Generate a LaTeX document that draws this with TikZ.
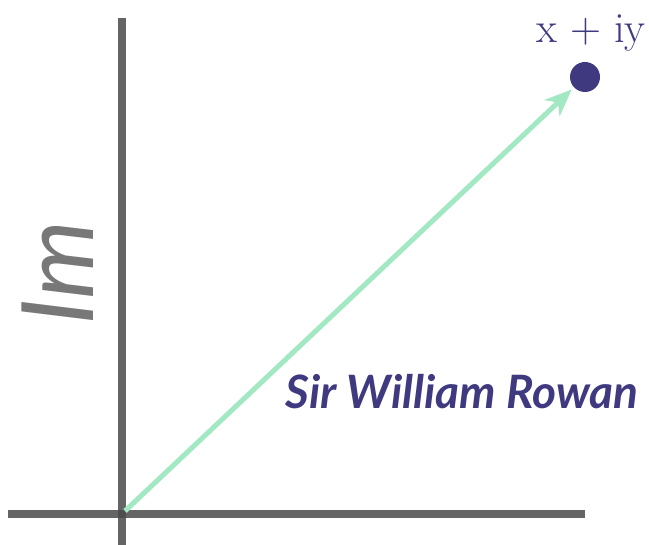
\documentclass[tikz,border=0pt]{standalone}
\usepackage{fontspec}
\setmainfont{Latin Modern Roman}
\newfontfamily\labelfont{Lato}
\usetikzlibrary{arrows.meta}
\definecolor{navy}{HTML}{3F3A80}
\definecolor{mint}{HTML}{A2E8C2}
\definecolor{axisgray}{HTML}{4A4A4A}
\definecolor{imgray}{HTML}{787878}
\begin{document}
\begin{tikzpicture}[x=1pt,y=1pt,
  axis/.style={draw=axisgray,line width=8pt,opacity=0.85},
  vec/.style={draw=mint,line width=5pt,-{Stealth[length=27pt,width=22pt,inset=8pt]},shorten >=3pt},
  pt/.style={circle,fill=navy,minimum size=30pt,inner sep=0pt}]
\useasboundingbox (0,0) rectangle (649,545);
\coordinate (ytop) at (122,527);
\coordinate (ybot) at (122,0);
\coordinate (xl) at (8,31);
\coordinate (xr) at (585,31);
\coordinate (o) at (125,34);
\draw[axis] (ytop) -- (ybot);
\draw[axis] (xl) -- (xr);
\node[pt] (p) at (585,468) {};
\draw[vec] (o) -- (p);
\node[text=navy,font=\fontsize{43}{50}\selectfont,anchor=base] (lbl) at (591,502) {x + iy};
\node[text=imgray,font=\labelfont\itshape\fontsize{100}{110}\selectfont,rotate=90,anchor=center] (im) at (58,272) {Im};
\node[text=navy,font=\labelfont\bfseries\itshape\fontsize{46}{52}\selectfont,anchor=base] (sir) at (462,136) {Sir William Rowan};
\end{tikzpicture}
\end{document}
